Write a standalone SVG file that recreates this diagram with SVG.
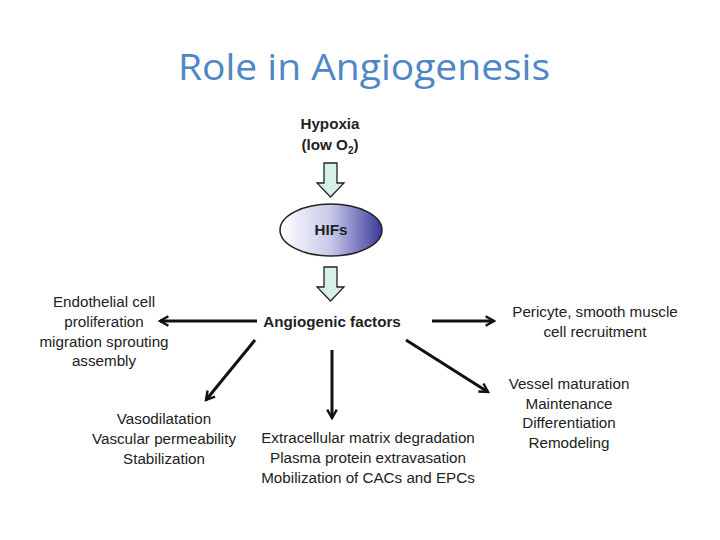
<svg xmlns="http://www.w3.org/2000/svg" width="720" height="540" viewBox="0 0 720 540">
<style>
.t{font-family:"Liberation Sans",Arial,sans-serif;font-size:15.2px;fill:#222;text-anchor:middle}
.b{font-weight:bold}
.c{stroke:#111;stroke-width:3;fill:none}
.h{fill:#d8f0ea;stroke:#222;stroke-width:1.3}
</style>
<defs>
<marker id="m" viewBox="0 0 10 10" refX="8" refY="5" markerWidth="4" markerHeight="4" orient="auto" markerUnits="strokeWidth"><path d="M1,1 L8,5 L1,9" fill="none" stroke="#111" stroke-width="2"/></marker>
<linearGradient id="g" x1="0" x2="1" y1="0" y2="0"><stop offset="0" stop-color="#fff"/><stop offset="0.5" stop-color="#c8c8ea"/><stop offset="1" stop-color="#3a3a9a"/></linearGradient>
</defs>
<rect width="720" height="540" fill="#fff"/>
<text x="364" y="80" style="font-family:'Open Sans','Liberation Sans',sans-serif;font-size:36px;fill:#4f86c6;text-anchor:middle" textLength="372" lengthAdjust="spacingAndGlyphs">Role in Angiogenesis</text>
<g id="hypoxia"><text class="t b" x="330" y="129">Hypoxia</text><text class="t b" x="330" y="150">(low O<tspan font-size="10" dy="4">2</tspan><tspan dy="-4">)</tspan></text></g>
<g id="hifs"><ellipse cx="331" cy="230" rx="51" ry="26" fill="url(#g)" stroke="#222" stroke-width="1.5"/><text class="t b" x="331" y="235">HIFs</text></g>
<g id="factors"><text class="t b" x="332" y="327">Angiogenic factors</text></g>
<g id="n1"><text class="t" x="104" y="307">Endothelial cell</text><text class="t" x="104" y="327">proliferation</text><text class="t" x="104" y="347">migration sprouting</text><text class="t" x="104" y="366">assembly</text></g>
<g id="n2"><text class="t" x="595" y="317">Pericyte, smooth muscle</text><text class="t" x="595" y="337">cell recruitment</text></g>
<g id="n3"><text class="t" x="164" y="424">Vasodilatation</text><text class="t" x="164" y="444">Vascular permeability</text><text class="t" x="164" y="464">Stabilization</text></g>
<g id="n4"><text class="t" x="368" y="443">Extracellular matrix degradation</text><text class="t" x="368" y="463">Plasma protein extravasation</text><text class="t" x="368" y="483">Mobilization of CACs and EPCs</text></g>
<g id="n5"><text class="t" x="569" y="389">Vessel maturation</text><text class="t" x="569" y="409">Maintenance</text><text class="t" x="569" y="428">Differentiation</text><text class="t" x="569" y="448">Remodeling</text></g>
<g id="connectors">
<path class="h" d="M324,163 H337 V183 H344 L330.5,197 L317,183 H324 Z"/>
<path class="h" d="M324,267 H337 V287 H344 L330.5,301 L317,287 H324 Z"/>
<line class="c" x1="257" y1="321" x2="160" y2="321" marker-end="url(#m)"/>
<line class="c" x1="432" y1="321" x2="494" y2="321" marker-end="url(#m)"/>
<line class="c" x1="255" y1="340" x2="206" y2="400" marker-end="url(#m)"/>
<line class="c" x1="332" y1="350" x2="332" y2="418" marker-end="url(#m)"/>
<line class="c" x1="406" y1="340" x2="488" y2="392" marker-end="url(#m)"/>
</g>
</svg>
